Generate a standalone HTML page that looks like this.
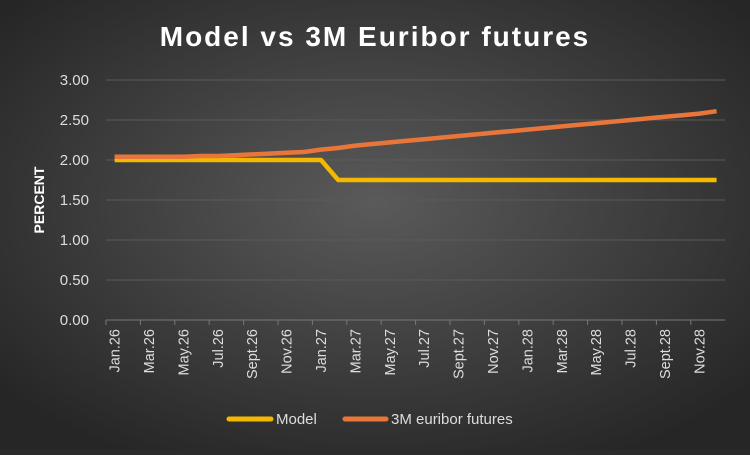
<!DOCTYPE html>
<html><head><meta charset="utf-8"><style>
body{margin:0;width:750px;height:450px;overflow:hidden;background:#2b2b2b;font-family:"Liberation Sans","DejaVu Sans",sans-serif}
</style></head><body>
<svg id="c" width="750" height="450" viewBox="0 0 750 450" xmlns="http://www.w3.org/2000/svg">
<defs><radialGradient id="bg" cx="50%" cy="45%" r="65%"><stop offset="0" stop-color="#5a5a5a"/><stop offset="1" stop-color="#262626"/></radialGradient></defs>
<rect width="750" height="450" fill="url(#bg)"/>
<text x="375" y="46" text-anchor="middle" fill="#fff" font-size="28" font-weight="bold" letter-spacing="2">Model vs 3M Euribor futures</text>
<text transform="translate(44,200) rotate(-90)" text-anchor="middle" fill="#fff" font-size="14" font-weight="bold">PERCENT</text>
<g id="grid"></g><g id="xl"></g><g id="lines"></g>
<g>
<line x1="229" y1="419" x2="271" y2="419" stroke="#f5b800" stroke-width="5" stroke-linecap="round"/>
<text x="276" y="424" fill="#ddd" font-size="15">Model</text>
<line x1="345" y1="419" x2="386" y2="419" stroke="#e8763a" stroke-width="5" stroke-linecap="round"/>
<text x="391" y="424" fill="#ddd" font-size="15">3M euribor futures</text>
</g>
</svg>
<script>
const months=["Jan","Feb","Mar","Apr","May","Jun","Jul","Aug","Sept","Oct","Nov","Dec"];
const years=["26","27","28"];
const modelValues=[2,2,2,2,2,2,2,2,2,2,2,2,2,1.75,1.75,1.75,1.75,1.75,1.75,1.75,1.75,1.75,1.75,1.75,1.75,1.75,1.75,1.75,1.75,1.75,1.75,1.75,1.75,1.75,1.75,1.75];
const futuresValues=[2.04,2.04,2.04,2.04,2.04,2.05,2.05,2.06,2.07,2.08,2.09,2.10,2.13,2.15,2.18,2.20,2.22,2.24,2.26,2.28,2.30,2.32,2.34,2.36,2.38,2.40,2.42,2.44,2.46,2.48,2.50,2.52,2.54,2.56,2.58,2.61];
const yTicks=[0,0.5,1,1.5,2,2.5,3];
const categories=[];years.forEach(y=>months.forEach(m=>categories.push(m+"."+y)));
const NS="http://www.w3.org/2000/svg";
const x0=106,band=17.2,yBase=320,pxPer=80;
const xs=i=>x0+band*(i+0.5), ys=v=>yBase-v*pxPer;
function mk(t,a,p){const e=document.createElementNS(NS,t);for(const k in a)e.setAttribute(k,a[k]);p.appendChild(e);return e;}
const g=document.getElementById('grid');
yTicks.forEach(v=>{
 const l=mk('line',{x1:x0,x2:x0+band*categories.length,y1:ys(v),y2:ys(v),stroke:v===0?'#777':'#5a5a5a','stroke-width':1},g);
 
 
 const t=mk('text',{x:89,y:ys(v)+5,'text-anchor':'end',fill:'#ddd','font-size':15},g);
 t.textContent=v.toFixed(2);
 
 
});
const xl=document.getElementById('xl');
categories.forEach((c,i)=>{
 if(i%2)return;
 const tk=mk('line',{x1:x0+band*i,x2:x0+band*i,y1:yBase,y2:yBase+5,stroke:'#777'},xl);
 
 
 const t=mk('text',{transform:`translate(${xs(i)+5},${yBase+9}) rotate(-90)`,'text-anchor':'end',fill:'#ddd','font-size':14.5},xl);
 t.textContent=c;
 
 
});
const L=document.getElementById('lines');
function line(vals,col,name){
 const p=mk('polyline',{points:vals.map((v,i)=>xs(i)+','+ys(v)).join(' '),fill:'none',stroke:col,'stroke-width':4.5,'stroke-linejoin':'round'},L);
 
 
}
line(modelValues,'#f5b800','model-line');
line(futuresValues,'#e8763a','futures-line');
</script>
</body></html>
